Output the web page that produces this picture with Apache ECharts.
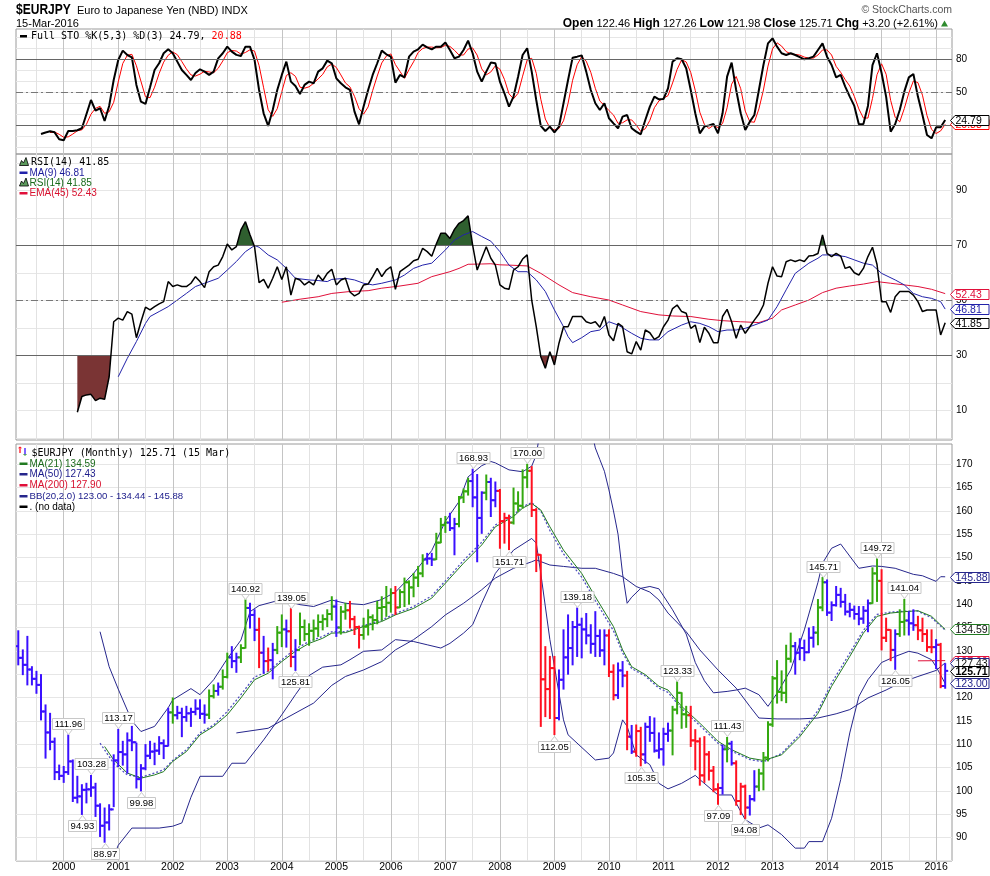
<!DOCTYPE html>
<html><head><meta charset="utf-8">
<script src="https://cdn.jsdelivr.net/npm/echarts@6/dist/echarts.min.js"></script>
<style>html,body{margin:0;padding:0;background:#fff}#c{width:990px;height:876px}</style>
</head><body><div id="c"></div>
<script>
// ---------- categories: monthly bars Mar 1999 .. Apr 2016 (last slot empty) ----------
const months = [];
for (let y = 1999, m = 3; y < 2016 || (y === 2016 && m <= 4);) {
  months.push(y + '-' + String(m).padStart(2, '0'));
  m++; if (m > 12) { m = 1; y++; }
}
const T0 = months.indexOf('2000-01');

// ---------- price bars (Mar 1999 .. Mar 2016) ----------
const open = [131,128.5,127,126,124,122.7,117,112.5,110.5,104,
103.2,104,106.3,98.5,98.8,100.2,100.3,100.7,96.8,92.5,
93.2,96,106.5,108.3,107.8,110.8,110.4,102.5,104.8,107.5,
108.4,108.6,110.2,109.6,116.8,116.2,116.7,115.8,116.6,116.9,
117.6,116.5,116.3,120.3,121.4,122.3,124.4,128.6,127.8,128.6,
130.6,139.2,137.7,134.5,129.6,127.8,128,130.2,133.9,134.6,
134.2,128.7,130.2,135.1,133.6,134.3,134.8,136.2,136.8,137.9,
139.5,135,138.4,138.7,136.8,135.1,133.4,135.2,137.2,136.6,
139.2,139.4,140.3,142.4,139.3,142.6,144.7,143.6,145.7,146.6,
149.6,149.8,149.6,153.2,157,157.5,156.3,157.2,162.9,164.2,
166.4,162.9,158.5,163.9,166.2,162.3,164.3,157.8,158.5,157.5,
161.6,161.1,167.2,168.6,160.2,150.6,123.9,121.8,126.3,115.6,
123.8,128.6,130.6,135.1,135.6,134.6,133.3,131.5,133.2,130.1,
133.3,125.5,120.5,125.8,124.7,111.6,108.4,112.8,107.8,113.7,
112.4,108.6,108.9,112.2,112.9,117.4,121,116.4,116.2,110.8,
110.6,103.3,107.8,104.3,100.3,100.6,108.9,110.1,105.9,97.8,
100.9,96.4,98.2,100.9,103.7,107.1,114.2,124.1,121.2,121,
128.3,131,129.6,130.6,129.7,132.8,133.9,139.3,144.7,138.2,
139.8,142,140.5,138.4,138.8,137.9,136.9,138.6,140.2,146.6,
145,132.8,134.5,130.2,133.6,136.2,136.5,135.9,135.5,134.4,
133.6,130.8,130.8,131.3,122.46];
const high = [134.3,130.2,133.1,126.6,125.6,124.9,118.4,116.6,111.3,105.5,
105.2,111.96,106.6,103.1,101.3,101.6,103.28,101.6,97.2,96.3,
97,107.7,113.17,110.6,112.4,113.8,110.2,105.6,109.9,110.6,
110.2,111.6,110.9,117.7,119.9,118.1,117.7,118.1,117.7,119.5,
119.5,118.4,121.6,122.7,123.1,125.9,129.5,130.9,129.5,131.3,
140.92,140.2,138.8,137,133.1,130.6,131.6,135.2,137.7,136.6,
139.05,132.4,138.1,136.6,135.8,136.6,137.7,137.7,138.8,141.6,
140.9,139.5,140.2,140.6,137.4,135.3,137,138.8,137.7,140.6,
141.6,143.8,143.3,143.8,143.1,145.6,145,146.6,148.1,150.6,
150.9,150.9,155.2,158.4,158.8,159.5,158.4,163.1,164.7,167,
168.93,167.8,164.1,167.7,167,166.2,164.6,159.5,159.1,164.9,
164.1,168.8,170,169.5,160.5,150.6,130.9,128.8,128.8,125.9,
134.5,137.7,136.3,139.18,137,138,135.6,138.4,134.5,134.5,
134.5,127,127.4,127.7,125.6,114,114.1,113.6,114.5,115.9,
115.6,112.4,113.4,114.5,118.1,123.33,121,118.1,118.1,113.1,
111.3,111.6,108.4,105.2,101.5,109.8,111.43,110.6,106.4,101.6,
101.2,99,104.3,104.6,108.2,114.8,124.5,127.9,125.7,131.2,
133.8,131.8,132.6,132.3,134.9,135.2,141,145.71,145.2,140.5,
143.8,143.4,142.1,140.2,139.6,139.5,139.5,140.9,147.8,149.72,
147.4,137,134.5,134.5,138.8,141.04,138.4,138.8,137.4,137,
134.5,134.5,132.4,131.6,127.26];
const low = [127,124.9,122.7,122.7,120.9,115.2,107,108.8,102.4,102.4,
101.8,103.5,97.7,97.4,94.93,97.4,98.8,94.5,90.2,88.97,
91.6,96.6,105.2,105.5,103.8,108.6,100.6,99.98,104.5,106.9,
105.6,107.8,106.9,109.6,114.5,115.4,111.6,114.9,113.8,116.3,
115.5,114.5,115.5,119.9,120.5,121.8,124.2,126.4,125.4,127.5,
130.6,134.9,132.2,126.4,125.2,125.7,124,129.4,130.9,130.8,
126.6,125.81,131.3,132.2,131.2,132.3,133.1,134.5,135.2,136.6,
133.1,133.6,136.8,134.9,133.5,130.6,132.5,133.4,134.5,135.8,
136.6,137.4,138.3,137.8,139.3,139.5,140,141.6,143.8,145.9,
148.6,148.3,149.6,153.2,155.4,155.8,150.6,156.6,161.8,163.4,
160.9,149.1,155.2,162.4,158.8,160.9,152,153.1,151.71,157.2,
159.9,160.6,165,158.8,147,113.8,115.9,115.5,112.05,115.2,
121.8,125,127,128.8,128.5,131.5,129.5,128.8,128.8,127,
124.5,119.5,119.8,122.3,108.8,108,107.4,105.35,105.9,110.6,
108.3,107,105.5,110.6,107.7,116.5,113.4,113.6,109.5,104.5,
101.2,101.8,102.3,99.8,97.09,99.3,106.2,105.5,96.9,94.9,
94.08,94.8,97.8,100,100.2,106.4,113.8,118.8,119.3,118.9,
127.6,125,128.1,127.9,129.6,130.8,131.3,138.6,137.6,136.5,
139.6,139.4,137.7,137.3,136.8,135.6,135.9,134.1,140.2,140.6,
130.2,132,127.9,126.05,133.1,133.4,133.4,134.4,132.4,132,
129.9,129.6,126.2,122.1,121.98];
const close = [128.5,127,126,124,122.7,117,112.5,110.5,104,103.2,
104,106.3,98.5,98.8,100.2,100.3,100.7,96.8,92.5,93.2,
96,106.5,108.3,107.8,110.8,110.4,102.5,104.8,107.5,108.4,
108.6,110.2,109.6,116.8,116.2,116.7,115.8,116.6,116.9,117.6,
116.5,116.3,120.3,121.4,122.3,124.4,128.6,127.8,128.6,130.6,
139.2,137.7,134.5,129.6,127.8,128,130.2,133.9,134.6,134.2,
128.7,130.2,135.1,133.6,134.3,134.8,136.2,136.8,137.9,139.5,
135,138.4,138.7,136.8,135.1,133.4,135.2,137.2,136.6,139.2,
139.4,140.3,142.4,139.3,142.6,144.7,143.6,145.7,146.6,149.6,
149.8,149.6,153.2,157,157.5,156.3,157.2,162.9,164.2,166.4,
162.9,158.5,163.9,166.2,162.3,164.3,157.8,158.5,157.5,161.6,
161.1,167.2,168.6,160.2,150.6,123.9,121.8,126.3,115.6,123.8,
128.6,130.6,135.1,135.6,134.6,133.3,131.5,133.2,130.1,133.3,
125.5,120.5,125.8,124.7,111.6,108.4,112.8,107.8,113.7,112.4,
108.6,108.9,112.2,112.9,117.4,121,116.4,116.2,110.8,110.6,
103.3,107.8,104.3,100.3,100.6,108.9,110.1,105.9,97.8,100.9,
96.4,98.2,100.9,103.7,107.1,114.2,124.1,121.2,121,128.3,
131,129.6,130.6,129.7,132.8,133.9,139.3,144.7,138.2,139.8,
142,140.5,138.4,138.8,137.9,136.9,138.6,140.2,146.6,145,
132.8,134.5,130.2,133.6,136.2,136.5,135.9,135.5,134.4,133.6,
130.8,130.8,131.3,122.46,125.71];
// Elder-impulse state of each bar: 1 up, -1 down, 0 neutral
const impulse = [0,0,0,0,0,0,0,0,0,0,
0,0,0,0,0,0,0,0,0,0,
0,0,0,0,0,0,0,0,0,0,
0,0,0,0,1,0,0,0,0,0,
0,0,1,1,0,1,1,0,0,1,
1,0,0,-1,0,-1,0,1,1,0,
-1,0,1,1,1,1,1,1,1,1,
0,1,1,-1,-1,-1,1,1,1,1,
1,1,1,-1,1,1,1,1,1,1,
0,0,1,1,1,0,0,1,1,1,
0,0,0,1,0,0,-1,-1,-1,1,
1,1,1,-1,-1,-1,-1,-1,-1,0,
0,0,0,0,0,0,0,0,0,0,
-1,-1,0,0,-1,0,-1,-1,0,0,
0,0,0,0,1,1,1,1,-1,-1,
-1,-1,-1,-1,-1,0,1,0,-1,-1,
-1,0,0,1,1,1,1,1,1,1,
1,0,0,0,0,0,1,1,0,0,
0,0,0,0,0,0,0,0,1,1,
-1,-1,-1,0,1,1,0,0,-1,-1,
-1,-1,0,-1,0];

// ---------- Full STO %K(5,3) and %D(3) (Mar 1999 ..) ----------
const stoK = [null,null,null,null,null,
12.1,13.5,14.5,13.6,7.3,6.4,14.8,14.8,15.5,17.3,
30,43,33.3,35.5,23.9,37.6,61.2,79.4,87.9,83.9,
81.8,56.7,41.5,39.4,54.5,70.3,76.4,85.5,89.1,85.5,
77.9,70.3,65.8,61.2,67.5,70.9,68.8,65.8,68.8,80.9,
85.5,91.5,87,84,83,91.5,91.5,79.4,52.1,30.9,
19.4,33.9,52.1,65.8,77.9,59.7,55.8,48.5,56.7,59.7,
58.2,68.8,71.8,78.8,76.4,62.7,58.2,54.5,52.1,32.4,
20.9,37,52.1,65.8,76.4,87.9,84.5,82.4,58.8,65.8,
63.6,82.4,87,89.1,93.3,90.9,89.1,91.5,91.5,95.2,
88.5,80.9,82.4,88.5,97,85.5,68.8,59.7,68.8,77,
76.4,59.7,49.1,37,46.1,64.2,83.9,90,68.8,43,
19.4,14.8,18.8,13.6,18.8,40,61.2,81.5,82.4,83.6,
68.8,52.1,40,33.9,40,26.4,21.8,17.3,27.9,29.4,
17.3,14.2,11.8,24.8,37,46.1,43.6,43.9,53.6,77.9,
80.9,80,71.8,52.1,30.9,12.7,18.8,19.9,21.2,12.7,
30.9,64.2,77,52.1,30.9,15.8,23.3,29.4,52.1,74.8,
94.5,99.1,91.5,85.5,83.9,85.5,83.9,82,80,80.9,
82.4,88.5,94.5,82.4,74.8,63.6,65.8,55.2,46.1,37.6,
20.9,21.2,37.6,74.8,85.5,67.5,46.1,14.2,21.2,33.9,
50.6,63.6,66.7,46.1,29.4,11.2,8.2,18.2,18.2,24.79];
const stoD = [null,null,null,null,null,null,null,
13.4,13.9,11.8,9.1,9.5,12,15,15.9,20.9,30.1,
35.4,37.3,30.9,32.3,40.9,59.4,76.2,83.7,84.5,74.1,
60,45.9,45.1,54.7,67.1,77.4,83.7,86.7,84.2,77.9,
71.3,65.8,64.8,66.5,69.1,68.5,67.8,71.8,78.4,86,
88,87.5,84.7,86.2,88.7,87.5,74.3,54.1,34.1,28.1,
35.1,50.6,65.3,67.8,64.5,54.7,53.7,55,58.2,62.2,
66.3,73.1,75.7,72.6,65.8,58.5,54.9,46.3,35.1,30.1,
36.7,51.6,64.8,76.7,82.9,84.9,75.2,69,62.7,70.6,
77.7,86.2,89.8,91.1,91.1,90.5,90.7,92.7,91.7,88.2,
83.9,83.9,89.3,90.3,83.8,71.3,65.8,68.5,74.1,71,
61.7,48.6,44.1,49.1,64.7,79.4,80.9,67.3,43.7,25.7,
17.7,15.7,17.1,24.1,40,60.9,75,82.5,78.3,68.2,
53.6,42,38,33.4,29.4,21.8,22.3,24.9,24.9,20.3,
14.4,16.9,24.5,36,42.2,44.5,47,58.5,70.8,79.6,
77.6,68,51.6,31.9,20.8,17.1,20,17.9,21.6,35.9,
57.4,64.4,53.3,32.9,23.3,22.8,34.9,52.1,73.8,89.5,
95,92,87,85,84.4,83.8,82,81,81.1,83.9,
88.5,88.5,83.9,73.6,68.1,61.5,55.7,46.3,34.9,26.6,
26.6,44.5,66,75.9,66.4,42.6,27.2,23.1,35.2,49.4,
60.3,58.8,47.4,28.9,16.3,12.5,14.9,20.88];

// ---------- RSI(14) (Mar 1999 ..) ----------
const rsi = [null,null,null,null,null,null,null,null,null,null,null,null,null,
9.3,15,15.6,15.8,13.5,14.4,14,22.2,42.2,43.5,
42.8,45.9,45,36.4,42.2,47.5,46.5,47.7,48.7,49.5,
56.8,55,55.6,55,55,56.2,58.6,56.8,54.6,60.4,
62.2,62.8,65.9,70.5,68.3,69.5,75.6,78.6,73.8,69.5,
56.4,57.6,54.4,58,62.2,57.6,62.2,51.9,58,57.4,
55.6,56.8,55.6,59.2,57.2,59.8,61.3,55.6,57.4,58,
53,51.6,52.5,55.6,55.9,58.6,61.6,58.6,61,62.2,
54,60.4,61.6,62.8,64.4,64.9,68.9,67.7,66,70.5,
74.4,74.4,72.5,75.8,78,79,80.7,70.1,61,65.3,
69.5,65.3,62.8,55.6,54.4,54,61,62.2,65,66.5,
50.1,40.4,29.5,25.3,31.3,26.5,34.4,40.4,40.4,44.1,
44.1,44.1,42.2,41.6,42.2,40.2,44.1,37.4,35.3,41.6,
40.4,31.3,30.5,35,31.9,39.2,38.2,35.8,36.8,40.4,
42.8,47,48.3,45.9,45.3,39.8,41,34.6,40.2,38,
34.6,34.6,44.1,46.7,42.2,36.2,41,38,40.4,42.8,
45,48.3,56.2,62.2,58.8,58.6,64,64.7,64.1,64.7,
64.1,66.1,66.3,67,73.8,67.1,65.9,67.1,66.1,61.6,
62.2,60,59.2,61.6,65.9,69.3,63,49.5,49.5,45.6,
51.3,53.2,53.2,53.2,51.9,49.5,45.9,46.5,46.5,46.5,
37.4,41.85];

// ---------- smooth overlays read at sample months: [months since Jan 2000, value] ----------
const rsiMa9 = [[12,22.2],[14,28.9],[16,35],[18,41.6],[19,44.1],[21,45.9],[23,47.7],[25,50.1],[27,52.5],[29,55],[31,56.2],[34,58],[36,61],[38,64.1],[40,67.7],[42,69.9],[43,69.3],[45,66.5],[47,64.7],[49,61.6],[51,58],[54,57.4],[56,57.2],[58,56.8],[59,57.6],[62,58],[64,57.4],[66,56.2],[68,55.6],[70,56.2],[73,57.4],[75,59.2],[77,61.6],[79,62.8],[81,63.5],[84,68.3],[86,71.9],[88,73.8],[90,75],[92,73.2],[94,71.5],[96,67.7],[98,62.8],[100,60.4],[102,60.4],[104,57.4],[106,53.2],[108,46.5],[110,40.4],[111,36.8],[112,34.6],[114,36.4],[116,38.6],[118,39.2],[120,42.2],[122,41],[125,38],[127,36.2],[129,35.6],[131,35.6],[133,38.6],[136,41],[138,42.2],[140,41.6],[142,40.4],[144,38.6],[146,39.2],[148,39.2],[150,39.8],[153,41.6],[155,42.8],[157,47.7],[159,53.8],[161,59.8],[164,63.5],[166,65.3],[167,66.5],[169,66.5],[172,65.9],[174,64.7],[176,63.5],[178,62.8],[180,59.8],[183,57.4],[185,55.6],[187,52.5],[189,51.3],[191,50.7],[193,49.5],[194,46.81]];
const rsiEma45 = [[48,49.3],[52,50.4],[56,51.3],[59,52.5],[63,53.2],[67,53.5],[70,54.4],[74,55.2],[78,56.2],[81,58.6],[85,60.4],[87,61.6],[89,63.1],[92,63.2],[94,63.3],[96,62.9],[98,62.8],[102,62.5],[105,59.8],[109,55.6],[112,52.8],[116,51.3],[120,50.1],[123,48.3],[127,45.9],[131,44.7],[134,44.3],[138,44.1],[142,43.1],[145,42.6],[149,42.2],[153,41.9],[156,43.5],[158,46.5],[161,48.3],[164,50.1],[167,52.8],[170,54.4],[173,55.2],[176,55.9],[179,56.8],[182,56.2],[185,55.6],[188,55],[191,54],[194,52.43]];
const ma21 = [[9,109.5],[11,106.6],[14,103.8],[17,102.7],[20,103.4],[22,104.1],[24,106.3],[27,108.4],[30,112],[33,113.8],[36,116.3],[39,119.9],[42,123.8],[45,125.2],[48,127.7],[51,129.9],[54,131.6],[57,132.7],[59,133.8],[62,133.9],[66,135.2],[70,136.3],[73,137.7],[77,139.1],[81,141.3],[84,144.5],[88,148.8],[92,152.7],[95,156.6],[99,158.8],[101,160.6],[103,161.6],[105,160.2],[107,156.6],[110,151.6],[114,146.6],[117,141.6],[121,135.2],[123,130.2],[125,126.6],[128,124.9],[131,122.4],[133,121.6],[136,118.1],[140,114.5],[144,110.6],[147,108.8],[151,107],[154,106.5],[158,107.7],[162,111.6],[166,116.6],[169,122.4],[173,128.8],[176,133.8],[179,137.4],[182,138.1],[185,138.4],[188,138.6],[191,137.4],[194,134.59]];
const ma50 = [[38,112.4],[45,113.4],[49,115.6],[55,118.8],[59,122.6],[62,124.5],[66,125.9],[70,127.7],[73,130.2],[77,132.4],[81,135.2],[84,137.7],[88,140.2],[92,143.1],[95,145.6],[99,147.7],[103,149.1],[104,149.5],[107,148.4],[110,148.1],[114,147.7],[117,147.7],[121,146.6],[123,145.9],[126,143.8],[129,142.6],[131,140.9],[133,138.1],[137,134.1],[140,130.2],[144,125.9],[148,122],[151,118.1],[153,115.6],[157,115.4],[162,115.4],[166,115.6],[170,116.5],[173,117.4],[177,119.9],[181,121.6],[184,123.1],[188,124.5],[192,125.8],[194,127.43]];
const ma200 = [[188,127.86],[191,127.88],[194,127.9]];
const bbUpper = [[8,134.1],[10,126.6],[12,121.8],[15,115],[17,112.7],[20,113.8],[23,117.8],[24,119.5],[28,121.9],[30,120.6],[33,123.8],[36,128.3],[39,132.3],[41,138.4],[43,139.7],[48,141],[52,139.9],[55,139.5],[59,140.9],[62,140.2],[66,139.9],[70,141],[73,142.6],[77,146.6],[81,151.5],[84,157.8],[87,162],[89,167.3],[92,169.7],[94,170.6],[95,170.3],[98,168.8],[101,168.4],[103,169.6],[104,172],[105,178],[108,190],[112,190],[116,178],[117,173.5],[118,171],[119,168.5],[120,164.5],[121,160],[122,155],[123,146.5],[124,140.2],[125,141.5],[127,143.4],[129,143.8],[131,143.3],[134,138.8],[137,133.6],[139,127.5],[141,123.6],[143,121],[146,121.3],[148,121.6],[150,122],[153,120.6],[155,118.1],[157,120.9],[160,125.9],[163,134.5],[166,144.7],[167,148.8],[169,152],[171,152.9],[172,151.6],[175,147.7],[178,148.2],[180,148.1],[183,147.7],[187,146.4],[189,146.1],[192,144.9],[193,145.9],[194,145.88]];
const bbMid = [[8,110.2],[11,105.9],[14,103.4],[17,102.9],[20,103.8],[22,104.5],[24,106.5],[27,108.8],[30,112.4],[33,114.1],[36,117],[39,120.6],[42,124.4],[45,125.6],[48,128.1],[51,130.4],[54,132],[57,133.1],[59,134.1],[62,134.1],[66,135.4],[70,136.6],[73,138],[77,139.5],[81,141.8],[84,145],[88,149.4],[92,153.3],[95,157],[99,159.1],[101,160.9],[103,161.8],[105,160],[107,155.8],[110,150.8],[114,145.8],[117,140.8],[121,134.3],[123,129.6],[125,126.2],[128,124.6],[131,122],[133,121.1],[136,117.6],[140,114],[144,110.2],[147,108.5],[151,106.7],[154,106.2],[158,108],[162,112.1],[166,117.2],[169,123.1],[173,129.5],[176,134.4],[179,137.8],[182,138.3],[185,138.5],[188,138.5],[191,137.1],[194,134.44]];
const bbLower = [[8,85.9],[11,85.9],[12,88.3],[15,92],[21,92],[24,92.4],[26,93.1],[28,98.6],[30,103.1],[35,103.1],[37,105.9],[40,105.9],[44,110.9],[48,116.3],[51,120.6],[54,124.7],[57,126.5],[61,127],[63,128.1],[66,129.9],[70,130.2],[73,132.4],[77,132],[80,131.3],[83,130.6],[85,131.6],[88,133.8],[90,135.6],[92,140.2],[95,146.6],[99,151.6],[103,154.1],[104,153.1],[105,146.6],[107,132.4],[110,115.2],[111,112],[117,106.6],[120,107],[121,108.1],[123,115.2],[124,113.8],[126,107.7],[128,106.3],[129,105.6],[131,101.6],[133,100.4],[136,101.6],[139,103.3],[140,102.4],[144,99.1],[147,99.1],[150,93.8],[153,92],[155,92.7],[158,90.6],[161,87.7],[163,87.7],[164,89.1],[167,89.1],[169,94.1],[171,102.4],[173,112.4],[175,120.2],[177,123.8],[180,127.5],[183,128.8],[186,129.9],[188,129.5],[191,128.1],[192,126.6],[194,123]];

// annotated swing highs / lows (month labels)
const hiLabelMonths = ['2000-02','2000-07','2001-01','2003-05','2004-03','2007-07','2008-07','2009-06','2011-04','2012-03','2013-12','2014-12','2015-06'];
const loLabelMonths = ['2000-05','2000-10','2001-06','2004-04','2008-03','2009-01','2010-08','2012-01','2012-07','2015-04'];

// tick labels
const stoTicks = [20, 50, 80];
const rsiTicks = [10, 30, 50, 70, 90];
const priceTicks = [90,95,100,105,110,115,120,125,130,135,140,145,150,155,160,165,170];

// ---------- helpers ----------
const last = a => { for (let j = a.length - 1; j >= 0; j--) { const v = a[j]; if (v != null) return Array.isArray(v) ? v[1] : v; } };
const full = a => a.map((v, j) => [j, v]).filter(d => d[1] != null);
const samp = a => a.map(d => [d[0] + T0, d[1]]);
const range = (a, b, s) => { const r = []; for (let v = a; v <= b + 1e-9; v += s) r.push(v); return r; };
const halfYear = months.map((m, j) => (m.endsWith('-01') || m.endsWith('-07')) ? j : -1).filter(j => j >= 0);
const janIdx = months.map((m, j) => m.endsWith('-01') ? j : -1).filter(j => j >= 0);

const SANS = '"Liberation Sans", Arial, sans-serif';
const MONO = '"DejaVu Sans Mono", monospace';
const C_BLUE = '#3a10ff', C_GREEN = '#33a80f', C_RED = '#ff1020';
const NAVY = '#26268c';

function xAx(k, showLabel) {
  return {
    type: 'value', gridIndex: k, min: -0.5, max: months.length - 0.5,
    axisLine: { show: false },
    axisTick: { show: false, customValues: halfYear },
    axisLabel: { show: showLabel, customValues: janIdx, formatter: v => months[Math.round(v)].slice(0, 4),
      fontSize: 10.5, fontFamily: SANS, color: '#000', margin: 1 },
    splitLine: { show: true, lineStyle: { color: ['#e2e2e2', '#c4c4c4'], width: 1 } }
  };
}
function yAx(k, min, max, labels, grid) {
  return {
    type: 'value', gridIndex: k, position: 'right', min, max,
    axisLine: { show: false },
    axisTick: { show: false, customValues: grid },
    axisLabel: { customValues: labels, fontSize: 10, fontFamily: SANS, color: '#000', margin: 4 },
    splitLine: { show: true, lineStyle: { color: '#e6e6e6', width: 1 } }
  };
}
function lineS(k, data, color, width, extra) {
  return Object.assign({ type: 'line', xAxisIndex: k, yAxisIndex: k, data, symbol: 'none', showSymbol: false,
    silent: true, lineStyle: { color, width }, z: 3 }, extra || {});
}
function refLines(k, solid, dashed) {
  const d = solid.map(v => ({ yAxis: v, lineStyle: { color: '#666', width: 1, type: 'solid' } }));
  dashed.forEach(v => d.push({ yAxis: v, lineStyle: { color: '#777', width: 1, type: [7, 3, 2, 3] } }));
  return { type: 'line', xAxisIndex: k, yAxisIndex: k, data: [], silent: true, z: 2,
    markLine: { silent: true, symbol: 'none', label: { show: false }, animation: false, data: d } };
}
function tagS(k, value, color, textColor, bold) {
  return {
    type: 'custom', xAxisIndex: k, yAxisIndex: k, clip: false, silent: true, z: 30,
    data: [[months.length - 0.5, value]], encode: { x: 0, y: 1 },
    renderItem: (p, api) => {
      const pt = api.coord([api.value(0), api.value(1)]);
      const x = Math.round(pt[0]) - 1.5, y = Math.round(pt[1]) + 0.5;
      return { type: 'group', children: [
        { type: 'polygon', shape: { points: [[x, y], [x + 4.5, y - 5], [x + 38.5, y - 5], [x + 38.5, y + 5], [x + 4.5, y + 5]] },
          style: { fill: '#fff', stroke: color, lineWidth: 1 } },
        { type: 'text', x: x + 5, y: y + 0.5, style: { text: value.toFixed(2), fill: textColor,
          font: (bold ? 'bold 10.5px ' : '10.5px ') + SANS, verticalAlign: 'middle', align: 'left' } }
      ] };
    }
  };
}
function fillRegions(pts, T, above) {
  const res = []; let run = null;
  const inside = v => above ? v > T : v < T;
  for (let k = 0; k < pts.length; k++) {
    const [x, v] = pts[k];
    if (k > 0) {
      const [px, pv] = pts[k - 1];
      if (inside(pv) !== inside(v)) {
        const cx = px + (T - pv) / (v - pv) * (x - px);
        if (run) { run.push([cx, T]); res.push(run); run = null; } else run = [[cx, T]];
      }
    }
    if (inside(v)) { if (!run) run = [[x, T]]; run.push([x, v]); }
  }
  if (run) { run.push([run[run.length - 1][0], T]); res.push(run); }
  return res;
}

const ohlc = close.map((c, j) => [j, open[j], high[j], low[j], c, impulse[j]]);
const rsiPts = full(rsi);

const measCtx = document.createElement('canvas').getContext('2d');
const LBL_FONT = '9.5px ' + SANS;
measCtx.font = LBL_FONT;
const swingData = hiLabelMonths.map(m => { const j = months.indexOf(m); return [j, high[j], 1]; })
  .concat(loLabelMonths.map(m => { const j = months.indexOf(m); return [j, low[j], -1]; }));

const series = [
  // ---- STO panel
  refLines(0, [20, 80], [50]),
  lineS(0, full(stoD), '#ff0000', 1),
  lineS(0, full(stoK), '#000', 2, { z: 4 }),
  // ---- RSI panel
  refLines(1, [30, 70], [50]),
  { type: 'custom', xAxisIndex: 1, yAxisIndex: 1, silent: true, clip: true, z: 2, data: [[100, 50]], encode: { x: 0, y: 1 },
    renderItem: (p, api) => {
      const ch = [];
      fillRegions(rsiPts, 70, true).forEach(r => ch.push({ type: 'polygon', shape: { points: r.map(q => api.coord(q)) }, style: { fill: '#2f5f2f' } }));
      fillRegions(rsiPts, 30, false).forEach(r => ch.push({ type: 'polygon', shape: { points: r.map(q => api.coord(q)) }, style: { fill: '#7a3434' } }));
      return { type: 'group', children: ch };
    } },
  lineS(1, samp(rsiEma45), '#e0103a', 1),
  lineS(1, samp(rsiMa9), '#2222aa', 1),
  lineS(1, rsiPts, '#000', 1.5, { z: 5 }),
  // ---- price panel
  lineS(2, samp(bbUpper), NAVY, 1),
  lineS(2, samp(bbLower), NAVY, 1),
  lineS(2, samp(ma50), NAVY, 1),
  lineS(2, samp(ma200), '#e0103a', 1),
  lineS(2, samp(bbMid), '#5050c0', 1.3, { lineStyle: { color: '#5050c0', width: 1.3, type: [2, 2] } }),
  lineS(2, samp(ma21), '#217a21', 1),
  { type: 'custom', xAxisIndex: 2, yAxisIndex: 2, silent: true, clip: true, z: 6, data: ohlc,
    encode: { x: 0, y: [1, 2, 3, 4] },
    renderItem: (p, api) => {
      const x = api.value(0), imp = api.value(5);
      const col = imp > 0 ? C_GREEN : (imp < 0 ? C_RED : C_BLUE);
      const pH = api.coord([x, api.value(2)]), pL = api.coord([x, api.value(3)]);
      const pO = api.coord([x, api.value(1)]), pC = api.coord([x, api.value(4)]);
      const cx = pH[0];
      return { type: 'group', children: [
        { type: 'line', shape: { x1: cx, y1: pH[1] - 0.5, x2: cx, y2: pL[1] + 0.5 }, style: { stroke: col, lineWidth: 2 } },
        { type: 'line', shape: { x1: cx - 3, y1: pO[1], x2: cx, y2: pO[1] }, style: { stroke: col, lineWidth: 2 } },
        { type: 'line', shape: { x1: cx, y1: pC[1], x2: cx + 3, y2: pC[1] }, style: { stroke: col, lineWidth: 2 } }
      ] };
    } },
  { type: 'custom', xAxisIndex: 2, yAxisIndex: 2, silent: true, clip: false, z: 10, data: swingData,
    encode: { x: 0, y: 1 },
    renderItem: (p, api) => {
      const pt = api.coord([api.value(0), api.value(1)]);
      const dir = api.value(2);
      const txt = api.value(1).toFixed(2);
      const w = Math.round(measCtx.measureText(txt).width + 4), h = 11;
      const x = Math.round(pt[0]) + 0.5, y = pt[1];
      let by, tri;
      if (dir > 0) { by = Math.round(y - 6 - h) + 0.5; tri = [[x - 4, by + h], [x, by + h + 5], [x + 4, by + h]]; }
      else { by = Math.round(y + 6) + 0.5; tri = [[x - 4, by], [x, by - 5], [x + 4, by]]; }
      return { type: 'group', children: [
        { type: 'polygon', shape: { points: tri }, style: { fill: '#fff', stroke: '#c8c8c8', lineWidth: 1 } },
        { type: 'rect', shape: { x: x - w / 2, y: by, width: w, height: h }, style: { fill: '#fff', stroke: '#c8c8c8', lineWidth: 1 } },
        { type: 'text', x: x, y: by + h / 2 + 0.5, style: { text: txt, font: LBL_FONT, fill: '#000', align: 'center', verticalAlign: 'middle' } }
      ] };
    } },
  // ---- value tags on the right
  tagS(0, last(stoD), '#ff0000', '#ff0000', false),
  tagS(0, last(stoK), '#000', '#000', false),
  tagS(1, last(rsiEma45), '#e0103a', '#e0103a', false),
  tagS(1, last(rsiMa9), '#2222aa', '#2222aa', false),
  tagS(1, last(rsi), '#000', '#000', false),
  tagS(2, last(bbUpper), NAVY, NAVY, false),
  tagS(2, last(ma21), '#217a21', '#111', false),
  tagS(2, last(ma200), '#e0103a', '#e0103a', false),
  tagS(2, last(ma50), NAVY, '#111', false),
  tagS(2, last(bbLower), NAVY, NAVY, false),
  tagS(2, last(close), '#000', '#000', true)
];

// ---------- texts ----------
const G = [];
function T(x, y, text, font, fill, extra, elExtra) {
  G.push(Object.assign({ type: 'text', x, y, z: 100, silent: true, style: Object.assign({ text, font, fill, verticalAlign: 'middle', align: 'left' }, extra || {}) }, elExtra || {}));
}
function R(x, y, w, h, fill) { G.push({ type: 'rect', z: 100, silent: true, shape: { x, y, width: w, height: h }, style: { fill } }); }
const f2 = v => v.toFixed(2);

T(16, 10.5, '$EURJPY', 'bold 14px ' + SANS, '#000', null, { scaleX: 0.86 });
T(77, 10.5, 'Euro to Japanese Yen (NBD) INDX', '11px ' + SANS, '#000');
T(16, 23.5, '15-Mar-2016', '11px ' + SANS, '#000');
T(952, 10, '\u00a9 StockCharts.com', '10.5px ' + SANS, '#555', { align: 'right' });
T(938, 23.5, '{b|Open} ' + f2(open[open.length - 1]) + ' {b|High} ' + f2(high[high.length - 1]) + ' {b|Low} ' + f2(low[low.length - 1]) +
  ' {b|Close} ' + f2(close[close.length - 1]) + ' {b|Chg} +3.20 (+2.61%)', '11px ' + SANS, '#000',
  { align: 'right', rich: { b: { fontWeight: 'bold', font: 'bold 11px ' + SANS } } });
G.push({ type: 'polygon', z: 100, silent: true, shape: { points: [[941, 26.5], [944.5, 20.5], [948, 26.5]] }, style: { fill: '#2e8b2e' } });

// STO legend
R(20, 35, 7, 2.5, '#000');
T(31, 36.5, 'Full STO %K(5,3) %D(3) ' + f2(last(stoK)) + ',', '10px ' + MONO, '#000');
T(31 + 6.02 * 30, 36.5, f2(last(stoD)), '10px ' + MONO, '#ff0000');

// RSI legend
function mountain(x, y) {
  G.push({ type: 'polygon', z: 100, silent: true, shape: { points: [[x, y + 4], [x + 2, y - 1], [x + 4, y + 1.5], [x + 6.5, y - 4], [x + 9, y + 4]] },
    style: { fill: '#5c9a5c', stroke: '#000', lineWidth: 0.8 } });
}
mountain(19.5, 161.5);
T(31, 162, 'RSI(14) ' + f2(last(rsi)), '10px ' + MONO, '#000');
R(19.5, 171.5, 8, 2.5, '#2222aa');
T(29.5, 173, 'MA(9) ' + f2(last(rsiMa9)), '10px ' + SANS, '#1a1a9a');
mountain(19.5, 182);
T(29.5, 183, 'RSI(14) ' + f2(last(rsi)), '10px ' + SANS, '#1a6a1a');
R(19.5, 192, 8, 2.5, '#e0103a');
T(29.5, 193.5, 'EMA(45) ' + f2(last(rsiEma45)), '10px ' + SANS, '#d8102e');

// price legend
G.push({ type: 'polyline', z: 100, silent: true, shape: { points: [[20, 447], [20, 453]] }, style: { stroke: C_RED, lineWidth: 1.3 } });
G.push({ type: 'polyline', z: 100, silent: true, shape: { points: [[18.5, 448], [20, 447], [21.5, 448]] }, style: { stroke: C_RED, lineWidth: 1 } });
G.push({ type: 'polyline', z: 100, silent: true, shape: { points: [[25, 448], [25, 455]] }, style: { stroke: C_BLUE, lineWidth: 1.3 } });
G.push({ type: 'polyline', z: 100, silent: true, shape: { points: [[23.5, 454], [25, 455.5], [26.5, 454]] }, style: { stroke: C_GREEN, lineWidth: 1 } });
T(31.5, 453, '$EURJPY (Monthly) ' + f2(close[close.length - 1]) + ' (15 Mar)', '10px ' + MONO, '#000');
R(19.5, 462.5, 8, 2.5, '#217a21');
T(29.5, 464, 'MA(21) ' + f2(last(ma21)), '10px ' + SANS, '#1a6a1a');
R(19.5, 473, 8, 2.5, NAVY);
T(29.5, 474.5, 'MA(50) ' + f2(last(ma50)), '10px ' + SANS, '#1a1a8a');
R(19.5, 484, 8, 2.5, '#e0103a');
T(29.5, 485.5, 'MA(200) ' + f2(last(ma200)), '10px ' + SANS, '#d8102e');
R(19.5, 495, 8, 2.5, NAVY);
T(29.5, 496.5, 'BB(20,2.0) ' + f2(last(bbLower)) + ' - ' + f2(last(bbMid)) + ' - ' + f2(last(bbUpper)), '9.6px ' + SANS, '#1a1a8a');
R(19.5, 505.5, 8, 2.5, '#000');
T(29.5, 507, '. (no data)', '10px ' + SANS, '#000');

const option = {
  animation: false,
  backgroundColor: '#fff',
  grid: [
    { left: 16, top: 29, width: 936, height: 125, show: true, borderColor: '#9a9a9a', borderWidth: 1 },
    { left: 16, top: 154, width: 936, height: 286, show: true, borderColor: '#9a9a9a', borderWidth: 1 },
    { left: 16, top: 444, width: 936, height: 417, show: true, borderColor: '#9a9a9a', borderWidth: 1 }
  ],
  xAxis: [xAx(0, false), xAx(1, false), xAx(2, true)],
  yAxis: [
    yAx(0, -6.1, 107.55, stoTicks, range(0, 100, 10)),
    yAx(1, -0.8, 103.2, rsiTicks, range(0, 100, 10)),
    yAx(2, 84.94, 174.35, priceTicks, range(85, 170, 5))
  ],
  series,
  graphic: G
};
const chart = echarts.init(document.getElementById('c'), null, { renderer: 'canvas' });
chart.setOption(option);
</script></body></html>
